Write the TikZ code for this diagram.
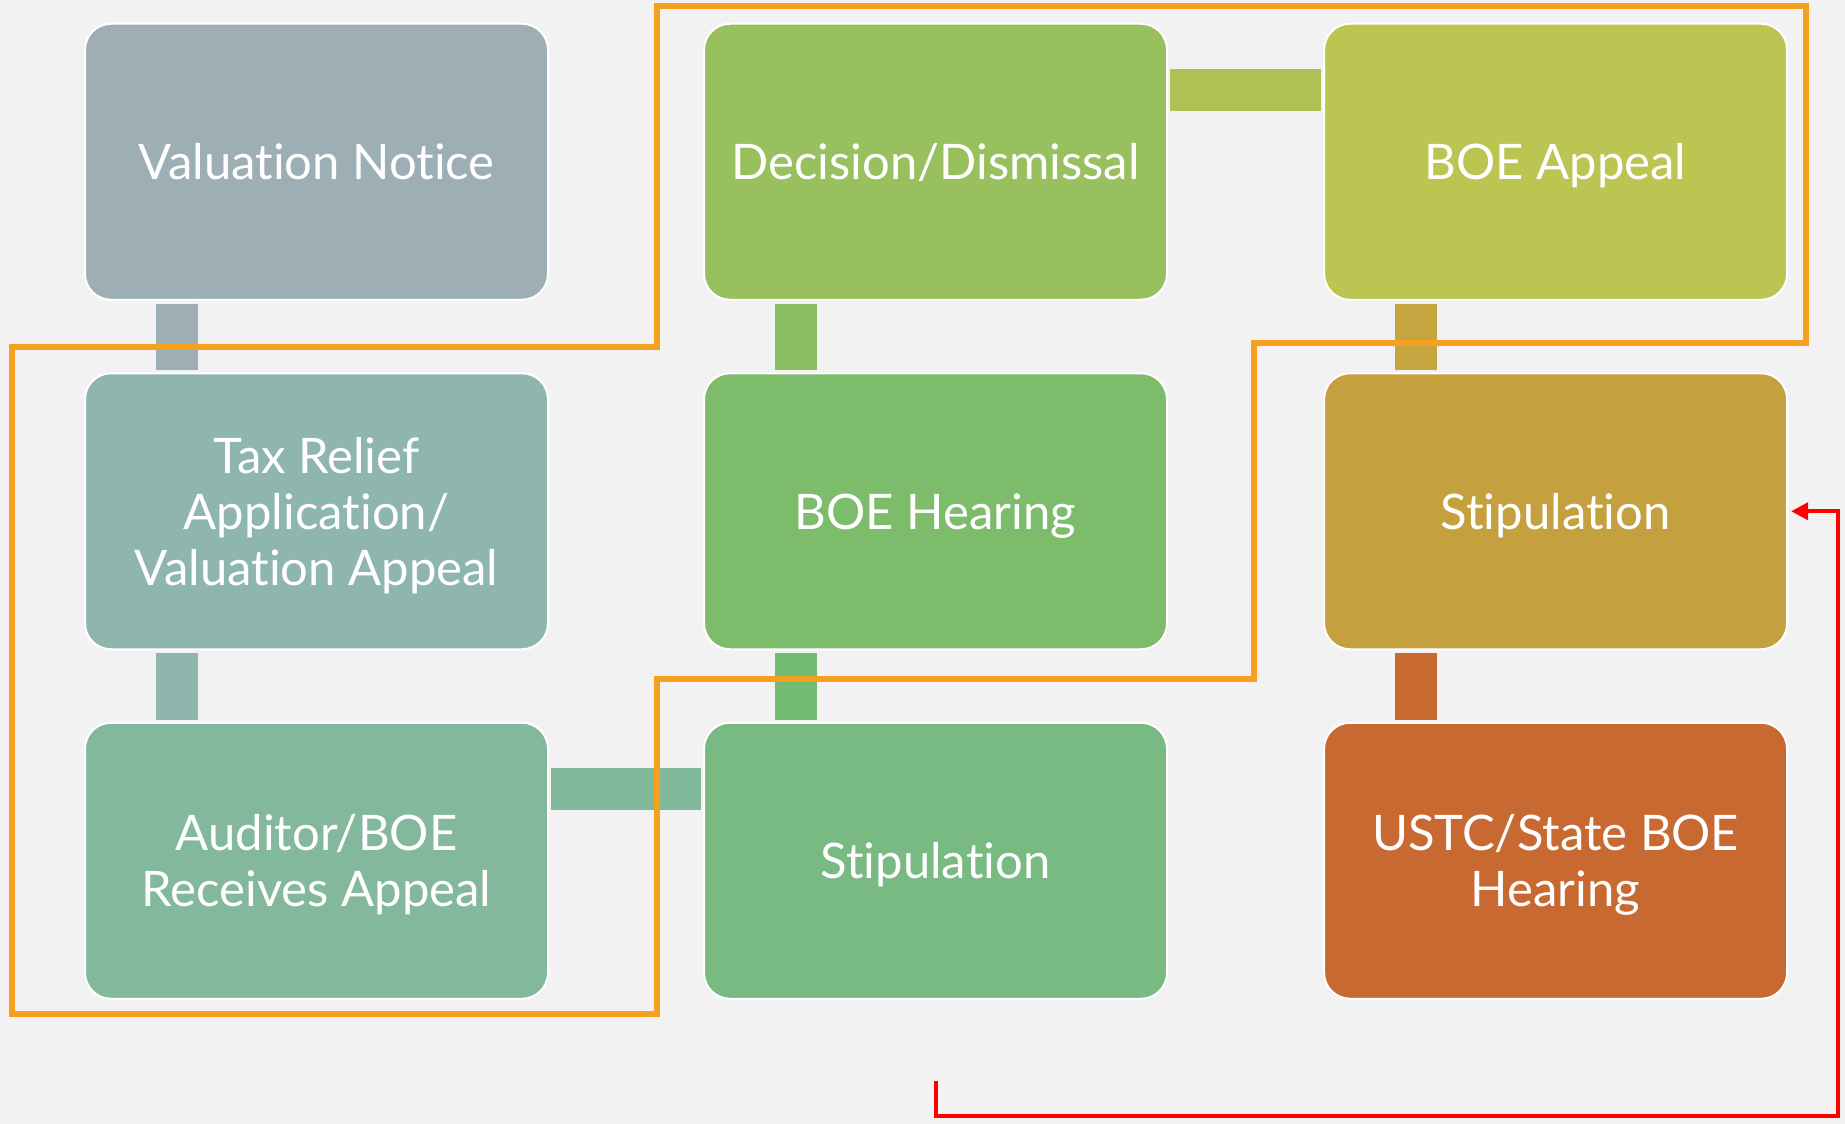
\documentclass[tikz,border=0pt]{standalone}
\usepackage{fontspec}
\setmainfont{Lato}[Ligatures=NoCommon]
\usetikzlibrary{calc,arrows.meta}
\pgfdeclarelayer{background}
\pgfsetlayers{background,main}
\definecolor{bg}{HTML}{F2F2F2}
\definecolor{cA}{HTML}{9DAFB4}
\definecolor{cB}{HTML}{8FB5AF}
\definecolor{cC}{HTML}{84B89D}
\definecolor{cD}{HTML}{79B982}
\definecolor{cE}{HTML}{7DBC6B}
\definecolor{cF}{HTML}{98C05E}
\definecolor{cG}{HTML}{BCC452}
\definecolor{cH}{HTML}{C5A03F}
\definecolor{cI}{HTML}{C96932}
\definecolor{bAB}{HTML}{9DAFB4}
\definecolor{bBC}{HTML}{8FB5AF}
\definecolor{bCD}{HTML}{80B89A}
\definecolor{bFE}{HTML}{89BD62}
\definecolor{bED}{HTML}{72BB72}
\definecolor{bFG}{HTML}{AFC152}
\definecolor{bGH}{HTML}{C5A540}
\definecolor{bHI}{HTML}{C96932}
\definecolor{orangeline}{HTML}{F5A11F}
\newcommand\lstrut{\rule[-10pt]{0pt}{56pt}}
\begin{document}
\begin{tikzpicture}[x=1pt,y=-1pt,
  stepbox/.style={draw=white,line width=2pt,rounded corners=26pt,
    minimum width=463pt,minimum height=276pt,inner sep=0pt,
    text=white,align=center,font=\fontsize{49}{56}\selectfont},
  bar/.style={line width=42pt},
  outline/.style={draw=orangeline,line width=6pt,line join=miter},
  loopback/.style={draw=red,line width=4pt,line join=miter,
    -{Triangle[length=17pt,width=17pt]}}]
\useasboundingbox (0,0) rectangle (1845,1124);
% boxes
\node[stepbox,fill=cA] (vn) at (316.5,161.75) {\lstrut Valuation Notice};
\node[stepbox,fill=cB] (tr) at (316.5,511.25) {\lstrut Tax Relief\\\lstrut Application/\\\lstrut Valuation Appeal};
\node[stepbox,fill=cC] (ar) at (316.5,860.75) {\lstrut Auditor/BOE\\\lstrut Receives Appeal};
\node[stepbox,fill=cF] (dd) at (935.5,161.75) {\lstrut Decision/Dismissal};
\node[stepbox,fill=cE] (bh) at (935.5,511.25) {\lstrut BOE Hearing};
\node[stepbox,fill=cD] (s2) at (935.5,860.75) {\lstrut Stipulation};
\node[stepbox,fill=cG] (ba) at (1555.6,161.75) {\lstrut BOE Appeal};
\node[stepbox,fill=cH] (s3) at (1555.6,511.25) {\lstrut Stipulation};
\node[stepbox,fill=cI] (us) at (1555.6,860.75) {\lstrut USTC/State BOE\\\lstrut Hearing};
% background and connector bars
\begin{pgfonlayer}{background}
\fill[bg] (0,0) rectangle (1845,1124);
\draw[bar,draw=bAB] ($(vn.south west)+(93,3)$) -- ($(tr.north west)+(93,-2)$);
\draw[bar,draw=bBC] ($(tr.south west)+(93,3)$) -- ($(ar.north west)+(93,-2)$);
\draw[bar,draw=bFE] ($(dd.south west)+(93,3)$) -- ($(bh.north west)+(93,-2)$);
\draw[bar,draw=bED] ($(bh.south west)+(93,3)$) -- ($(s2.north west)+(93,-2)$);
\draw[bar,draw=bGH] ($(ba.south west)+(93,3)$) -- ($(s3.north west)+(93,-2)$);
\draw[bar,draw=bHI] ($(s3.south west)+(93,3)$) -- ($(us.north west)+(93,-2)$);
\draw[bar,draw=bFG] ($(dd.north east)+(2,67.5)$) -- ($(ba.north west)+(-2,67.5)$);
\draw[bar,draw=bCD] ($(ar.north east)+(2,67)$) -- ($(s2.north west)+(-2,67)$);
\end{pgfonlayer}
% orange outline
\draw[outline] (657,6) -- (1806,6) -- (1806,343) -- (1254,343) -- (1254,679)
  -- (657,679) -- (657,1014) -- (12,1014) -- (12,347) -- (657,347) -- cycle;
% red loop back arrow
\coordinate (rstart) at (935.5,1081);
\draw[loopback] (rstart) -- (935.5,1116) -- (1838,1116) |- ($(s3.east)+(3,0)$);
\end{tikzpicture}
\end{document}
